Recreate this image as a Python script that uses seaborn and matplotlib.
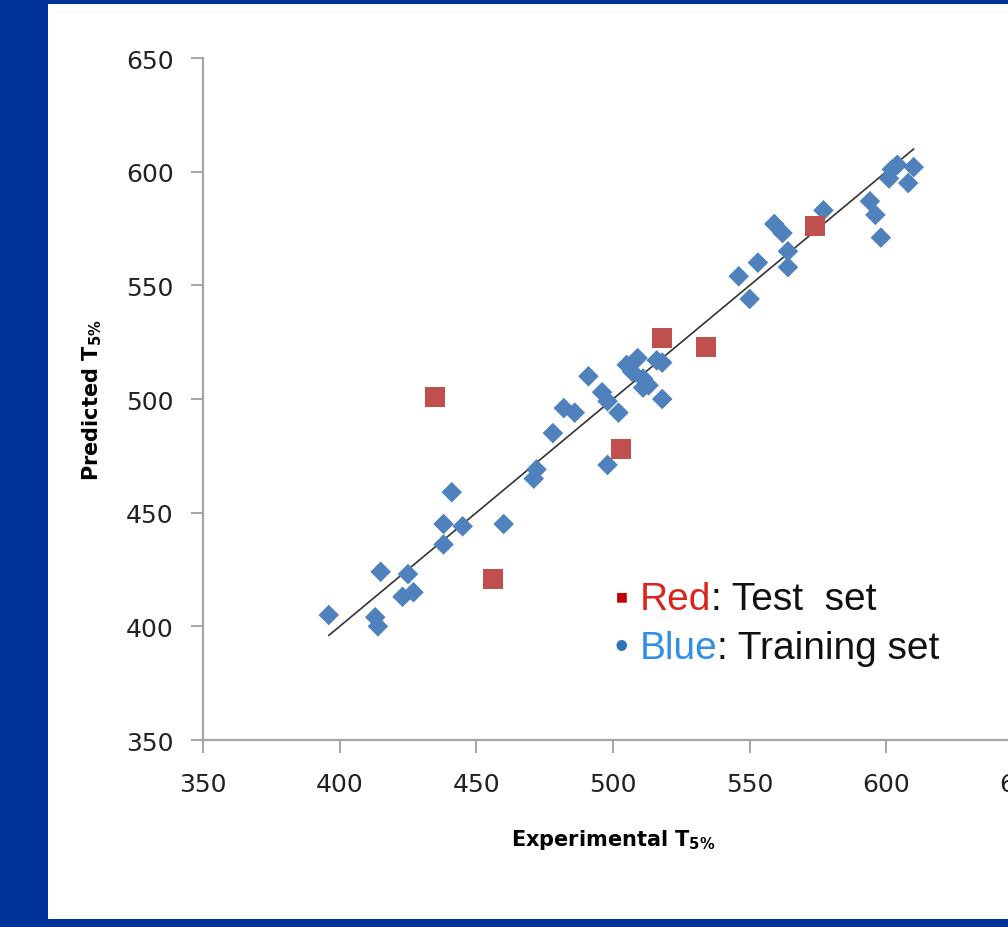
import numpy as np
import pandas as pd
import seaborn as sns
import matplotlib.pyplot as plt
from matplotlib.patches import Rectangle

# values
train_x = [396, 413, 414, 415, 425, 423, 427, 438, 438, 445, 441, 460, 472, 471, 478,
           482, 486, 491, 496, 498, 502, 498, 507, 509, 511, 513, 511, 505, 518, 518,
           516, 546, 550, 553, 564, 564, 559, 562, 577, 594, 596, 598, 602, 601, 608,
           610, 604]
train_y = [405, 404, 400, 424, 423, 413, 415, 436, 445, 444, 459, 445, 469, 465, 485,
           496, 494, 510, 503, 499, 494, 471, 512, 518, 509, 506, 505, 515, 500, 516,
           517, 554, 544, 560, 558, 565, 577, 573, 583, 587, 581, 571, 601, 597, 595,
           602, 603]
test_x = [435, 456, 503, 518, 534, 574]
test_y = [501, 421, 478, 527, 523, 576]

x_ticks = [350, 400, 450, 500, 550, 600, 650]
y_ticks = [350, 400, 450, 500, 550, 600, 650]

train = pd.DataFrame({'exp': train_x, 'pred': train_y})
test = pd.DataFrame({'exp': test_x, 'pred': test_y})

sns.set_theme(style='ticks')
plt.rcParams['font.family'] = ['DejaVu Sans']

fig = plt.figure(figsize=(10.08, 9.28), dpi=100, facecolor='#003399')
# white slide panel
fig.add_artist(Rectangle((48 / 1008, 8 / 928), 1 - 48 / 1008, 915 / 928,
                         transform=fig.transFigure, facecolor='white',
                         edgecolor='none', zorder=-1))

ax = fig.add_axes([0.2014, 0.2015, 0.8135, 0.7349])
ax.set_facecolor('none')

# identity line over the range of the data
all_x = np.array(train_x + test_x)
line_x = np.array([all_x.min(), all_x.max()])
ax.plot(line_x, line_x, color='#333333', lw=1.2, zorder=2)

sns.scatterplot(data=train, x='exp', y='pred', marker='D', s=110,
                color='#4F81BD', edgecolor='none', ax=ax, zorder=3)
sns.scatterplot(data=test, x='exp', y='pred', marker='s', s=210,
                color='#C0504D', edgecolor='none', ax=ax, zorder=4)

ax.set_xlim(350, 650)
ax.set_ylim(350, 650)
ax.set_xticks(x_ticks)
ax.set_yticks(y_ticks)

sns.despine(ax=ax)
for side in ['left', 'bottom']:
    ax.spines[side].set_color('#A6A6A6')
    ax.spines[side].set_linewidth(1.6)
ax.tick_params(axis='both', colors='#A6A6A6', width=1.4, length=9,
               labelsize=18, labelcolor='#222222')
ax.tick_params(axis='x', pad=14)
ax.tick_params(axis='y', pad=12)

ax.set_xlabel(r"Experimental T$_{\mathbf{5\%}}$", fontsize=15, fontweight='bold',
              color='black', labelpad=22)
ax.set_ylabel(r"Predicted T$_{\mathbf{5\%}}$", fontsize=15, fontweight='bold',
              color='black', labelpad=16)

# coloured legend text
fam = ['Liberation Sans', 'DejaVu Sans']
fs = 28
rows = [(0.503, 0.192, '▪ ', '#C00000', 'Red', '#D9251D', ': Test  set'),
        (0.503, 0.120, '• ', '#2E75B6', 'Blue', '#2F8FE8', ': Training set')]
for xa, ya, bullet, bcol, word, wcol, rest in rows:
    t = ax.text(xa, ya, bullet, color=bcol, fontsize=fs, family=fam,
                transform=ax.transAxes, va='baseline')
    t = ax.annotate(word, xy=(1, 0), xycoords=t, va='bottom', color=wcol,
                    fontsize=fs, family=fam)
    ax.annotate(rest, xy=(1, 0), xycoords=t, va='bottom', color='#111111',
                fontsize=fs, family=fam)

fig.savefig('out.png', dpi=100, facecolor=fig.get_facecolor())
